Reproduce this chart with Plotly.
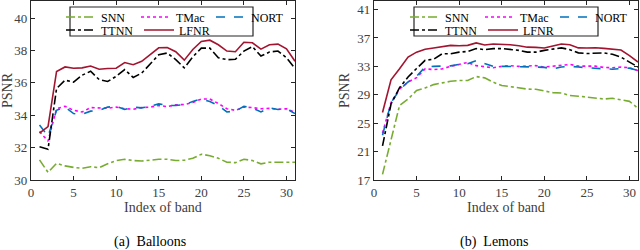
import plotly.graph_objects as go

band = list(range(1, 32))

# Balloons
bal_snn = [31.24, 30.47, 31.03, 30.87, 30.78, 30.72, 30.82, 30.76, 31.0, 31.2, 31.28, 31.2, 31.17, 31.24, 31.28, 31.28,
           31.2, 31.22, 31.34, 31.59, 31.5, 31.34, 31.1, 31.07, 31.28, 31.2, 31.0, 31.1, 31.1, 31.1, 31.1]
bal_tmac = [33.0, 32.4, 34.4, 34.55, 34.3, 34.2, 34.47, 34.47, 34.43, 34.5, 34.4, 34.37, 34.47, 34.5, 34.6, 34.53,
            34.64, 34.66, 34.78, 35.0, 35.0, 34.72, 34.4, 34.3, 34.5, 34.47, 34.4, 34.42, 34.37, 34.4, 34.18]
bal_nort = [33.4, 32.7, 34.3, 34.5, 34.1, 34.05, 34.25, 34.3, 34.5, 34.55, 34.35, 34.5, 34.45, 34.55, 34.7, 34.6,
            34.6, 34.65, 34.85, 35.0, 34.85, 34.6, 34.2, 34.25, 34.55, 34.45, 34.2, 34.45, 34.35, 34.4, 34.1]
bal_ttnn = [32.05, 31.9, 35.65, 36.16, 36.04, 36.47, 36.71, 36.2, 36.08, 36.4, 36.82, 36.33, 36.6, 37.18, 37.73, 37.84,
            37.43, 36.92, 37.6, 38.14, 38.14, 37.55, 37.43, 37.45, 37.96, 38.24, 37.65, 37.9, 37.96, 37.55, 36.88]
bal_lfnr = [32.9, 33.3, 36.7, 36.98, 36.9, 36.92, 37.04, 36.84, 36.88, 36.9, 37.25, 37.12, 37.33, 37.73, 38.16, 38.18,
            37.92, 37.4, 38.06, 38.55, 38.63, 38.35, 37.96, 37.92, 38.5, 38.47, 38.08, 38.35, 38.39, 38.1, 37.33]

# Lemons
lem_snn = [17.8, 22.7, 27.5, 28.4, 29.6, 29.96, 30.43, 30.67, 30.9, 31.0, 31.0, 31.56, 31.38, 30.76, 30.3, 30.15,
           29.96, 29.8, 29.77, 29.58, 29.3, 29.25, 28.9, 28.8, 28.7, 28.55, 28.4, 28.5, 28.3, 28.07, 27.1]
lem_tmac = [23.6, 27.9, 29.8, 30.8, 31.4, 32.65, 32.55, 32.65, 33.0, 33.27, 33.55, 33.1, 32.93, 32.8, 33.0, 33.1,
            33.0, 33.03, 33.1, 32.9, 33.0, 33.1, 33.27, 33.03, 33.07, 33.03, 32.84, 32.8, 32.9, 32.8, 32.4]
lem_nort = [23.3, 27.9, 29.7, 30.8, 31.6, 32.9, 33.0, 33.07, 33.07, 33.27, 33.36, 33.8, 33.45, 33.0, 33.0, 33.0,
            33.0, 33.0, 32.9, 32.85, 32.65, 32.9, 33.0, 32.9, 32.8, 32.65, 32.65, 32.6, 32.65, 32.75, 32.4]
lem_ttnn = [21.8, 27.7, 30.0, 31.5, 32.7, 33.85, 34.0, 34.77, 34.77, 35.0, 35.1, 35.5, 35.35, 35.5, 35.5, 35.4,
            35.25, 35.0, 35.0, 35.25, 35.43, 35.6, 35.35, 34.9, 34.8, 34.8, 34.9, 34.7, 34.3, 33.6, 32.9]
lem_lfnr = [26.5, 31.1, 32.65, 34.3, 35.0, 35.4, 35.58, 35.8, 35.95, 35.9, 35.95, 36.3, 36.0, 36.14, 36.1, 36.05,
            35.9, 35.7, 35.67, 35.58, 35.86, 36.14, 36.05, 35.6, 35.58, 35.62, 35.53, 35.43, 35.3, 34.5, 33.6]

methods = ["SNN", "TMac", "NORT", "TTNN", "LFNR"]
colors = {"SNN": "#77AC30", "TMac": "#FF00FF", "NORT": "#0072BD", "TTNN": "#000000", "LFNR": "#A2142F"}
dashes = {"SNN": "dashdot", "TMac": "dot", "NORT": "dash", "TTNN": "dashdot", "LFNR": "solid"}
row_of = {"SNN": 0, "TMac": 0, "NORT": 0, "TTNN": 1, "LFNR": 1}

balloons = {"SNN": bal_snn, "TMac": bal_tmac, "NORT": bal_nort, "TTNN": bal_ttnn, "LFNR": bal_lfnr}
lemons = {"SNN": lem_snn, "TMac": lem_tmac, "NORT": lem_nort, "TTNN": lem_ttnn, "LFNR": lem_lfnr}

font = "Liberation Serif"
W, H = 640, 250
fig = go.Figure()

panels = [(balloons, "x", "y", ["legend", "legend2"]), (lemons, "x2", "y2", ["legend3", "legend4"])]
for data, xa, ya, legs in panels:
    for m in methods:
        fig.add_trace(go.Scatter(
            x=band, y=data[m], mode="lines", name=m, xaxis=xa, yaxis=ya,
            line=dict(color=colors[m], dash=dashes[m], width=1.6),
            legend=legs[row_of[m]], showlegend=True,
        ))

axis_common = dict(
    showline=True, linecolor="#262626", linewidth=1.2, mirror="ticks",
    ticks="inside", ticklen=4, tickcolor="#262626", showgrid=False, zeroline=False,
    tickfont=dict(family=font, size=13, color="#404040"), automargin=False,
)
title_font = dict(family=font, size=14, color="#404040")
ydom = [1 - 180 / H, 1 - 1 / H]
fig.update_layout(
    width=W, height=H,
    margin=dict(l=0, r=0, t=0, b=0, autoexpand=False),
    paper_bgcolor="white", plot_bgcolor="white",
    font=dict(family=font, size=13, color="#262626"),
    xaxis=dict(domain=[31 / W, 295 / W], range=[0, 31], tickvals=[0, 5, 10, 15, 20, 25, 30],
               title=dict(text="Index of band", font=title_font, standoff=3),
               anchor="y", **axis_common),
    yaxis=dict(domain=ydom, range=[30, 41.05], tickvals=[30, 32, 34, 36, 38, 40],
               title=dict(text="PSNR", font=title_font, standoff=4),
               anchor="x", **axis_common),
    xaxis2=dict(domain=[374 / W, 638 / W], range=[0, 31], tickvals=[0, 5, 10, 15, 20, 25, 30],
                title=dict(text="Index of band", font=title_font, standoff=3),
                anchor="y2", **axis_common),
    yaxis2=dict(domain=ydom, range=[17, 42.2], tickvals=[17, 21, 25, 29, 33, 37, 41],
                title=dict(text="PSNR", font=title_font, standoff=4),
                anchor="x2", **axis_common),
)

leg_common = dict(orientation="h", bgcolor="rgba(0,0,0,0)", borderwidth=0,
                  font=dict(family=font, size=12, color="#000000"),
                  xanchor="left", yanchor="top", itemwidth=30, tracegroupgap=0,
                  entrywidthmode="pixels")
fig.update_layout(
    legend=dict(x=61 / W, y=1 - 2.5 / H, entrywidth=30, **leg_common),
    legend2=dict(x=61 / W, y=1 - 15.5 / H, entrywidth=33, **leg_common),
    legend3=dict(x=405 / W, y=1 - 2.5 / H, entrywidth=30, **leg_common),
    legend4=dict(x=405 / W, y=1 - 15.5 / H, entrywidth=33, **leg_common),
)

# legend boxes
for x0, x1 in [(70, 253), (414, 598)]:
    fig.add_shape(type="rect", xref="paper", yref="paper",
                  x0=x0 / W, x1=x1 / W, y0=1 - 36 / H, y1=1 - 7 / H,
                  line=dict(color="#262626", width=1.2), fillcolor="white", layer="above")

# captions
fig.add_annotation(text="(a)  Balloons", x=150 / W, y=1 - 242 / H, xref="paper", yref="paper",
                   xanchor="center", yanchor="middle",
                   showarrow=False, font=dict(family=font, size=14, color="#000000"))
fig.add_annotation(text="(b)  Lemons", x=494 / W, y=1 - 242 / H, xref="paper", yref="paper",
                   xanchor="center", yanchor="middle",
                   showarrow=False, font=dict(family=font, size=14, color="#000000"))

fig.write_html("out.html", config={"displayModeBar": False},
               post_script="document.body.style.margin='0';document.body.style.overflow='hidden';")
